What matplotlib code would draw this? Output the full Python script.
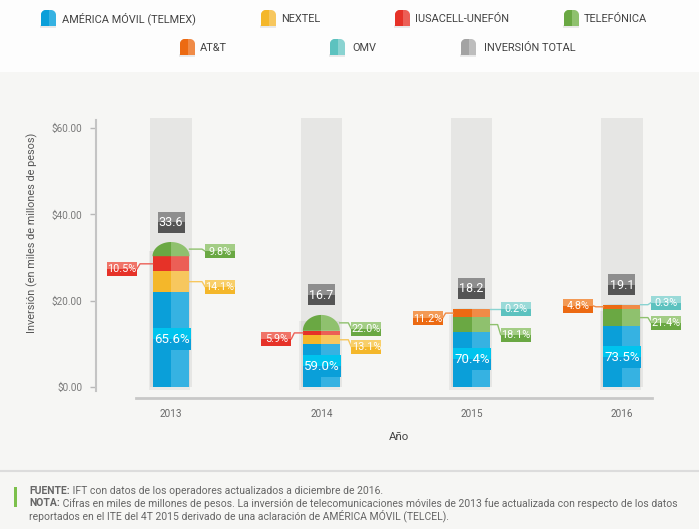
import matplotlib
matplotlib.use('Agg')
import matplotlib.pyplot as plt
from matplotlib.patches import Rectangle, Polygon
from matplotlib.lines import Line2D
from matplotlib.transforms import IdentityTransform
import numpy as np

# ---------------- data ----------------
years = ['2013', '2014', '2015', '2016']
totals = [33.6, 16.7, 18.2, 19.1]          # inversión total (miles de millones)
# share (%) of each operator, in stacking order bottom -> top
america_movil = [65.6, 59.0, 70.4, 73.5]
nextel = [14.1, 13.1, 0.0, 0.0]
iusacell = [10.5, 5.9, 0.0, 0.0]
telefonica = [9.8, 22.0, 18.1, 21.4]
att = [0.0, 0.0, 11.2, 4.8]
omv = [0.0, 0.0, 0.2, 0.3]

operators = ['AMÉRICA MÓVIL (TELMEX)', 'NEXTEL', 'IUSACELL-UNEFÓN', 'TELEFÓNICA', 'AT&T', 'OMV']
shares = [america_movil, nextel, iusacell, telefonica, att, omv]
total_label = 'INVERSIÓN TOTAL'

# ---------------- style ----------------
dark = ['#0a9fd9', '#f4b72a', '#e63228', '#6aa843', '#ec6a12', '#5cc2bf']
light = ['#36b2e2', '#f7c75e', '#ec5f56', '#8fc16e', '#f08b47', '#8ad3d1']
tag_top = ['#00c4ee', '#f8cf6a', '#f07468', '#a3cd85', '#f39a55', '#9adad8']
grey_dark, grey_light = '#a3a3a3', '#bdbdbd'
side = [0, 1, -1, 1, -1, 1]                 # 0 inside, 1 right, -1 left
tag_dy = [[0, 0, 0, 0], [5, 7, 0, 0], [5, 6, 0, 0], [2, 6, 10, 5], [0, 0, 5, -1], [0, 0, 0, -2]]
tag_dx = [49, 45, 44, 44]

plt.rcParams['font.family'] = ['Roboto', 'DejaVu Sans']

W, H = 699, 529
fig = plt.figure(figsize=(W / 100, H / 100), dpi=100)
fig.patch.set_facecolor('#f6f6f4')
ID = IdentityTransform()


def dy_(py):
    return H - py


# legend area (white)
fig.add_artist(Rectangle((0, dy_(72)), W, 72, transform=ID, facecolor='#fdfdfd', edgecolor='none', zorder=0))
# footer separator
fig.add_artist(Line2D([0, W], [dy_(471), dy_(471)], transform=ID, color='#dcdcdc', lw=1.5))

ax = fig.add_axes([96 / W, (H - 398) / H, (652 - 96) / W, (398 - 116) / H])
ax.set_facecolor('none')
x = np.arange(len(years))
ax.set_xlim(-0.499, 3.2)
ax.set_ylim(-2.55, 62.8)

bw = 0.246
# background columns
ax.bar(x, 62.3, width=0.275, bottom=0, color='#e6e6e4', zorder=1)

fig.canvas.draw()


def to_disp(xd, yd):
    return ax.transData.transform((xd, yd))


def two_tone(cx, cy, w, h, top, bottom, text, fs, text_color='white'):
    fig.add_artist(Rectangle((cx - w / 2, cy - h / 2), w, h / 2, transform=ID,
                             facecolor=bottom, edgecolor='none', zorder=5))
    fig.add_artist(Rectangle((cx - w / 2, cy), w, h / 2, transform=ID,
                             facecolor=top, edgecolor='none', zorder=5))
    fig.text(cx, cy - 0.5, text, transform=ID, ha='center', va='center',
             color=text_color, fontsize=fs, zorder=6)


for i, yr in enumerate(years):
    xi = x[i]
    # soft shadow
    ax.bar(xi - 0.012, totals[i] * 0.96, width=bw + 0.025, bottom=-0.8, color='#000000',
           alpha=0.05, zorder=2)
    segs = [(k, totals[i] * shares[k][i] / 100.0) for k in range(len(operators)) if shares[k][i] > 0]
    base = 0.0
    for n, (k, h) in enumerate(segs):
        top_seg = (n == len(segs) - 1)
        if top_seg:
            t_r = np.linspace(0, np.pi / 2, 40)
            t_l = np.linspace(np.pi / 2, np.pi, 40)
            pr = [(xi, base)] + [(xi + bw / 2 * np.cos(t), base + h * np.sin(t)) for t in t_r]
            pl = [(xi, base)] + [(xi + bw / 2 * np.cos(t), base + h * np.sin(t)) for t in t_l]
            ax.add_patch(Polygon(pr, closed=True, facecolor=light[k], edgecolor='none', zorder=3))
            ax.add_patch(Polygon(pl, closed=True, facecolor=dark[k], edgecolor='none', zorder=3))
        else:
            ax.bar(xi - bw / 4, h, width=bw / 2, bottom=base, color=dark[k], zorder=3)
            ax.bar(xi + bw / 4, h, width=bw / 2, bottom=base, color=light[k], zorder=3)
        # tag
        mid = base + h / 2
        cxd, cyd = to_disp(xi, mid)
        label = f'{shares[k][i]:.1f}%'
        if side[k] == 0:
            two_tone(cxd + 0.5, cyd, 38, 22, tag_top[k], dark[k], label, 9.5)
        else:
            s = side[k]
            half_bar = to_disp(xi + bw / 2, mid)[0] - cxd
            bx = cxd + s * tag_dx[i]
            by = cyd - tag_dy[k][i]
            bwid = 30
            edge = bx - s * bwid / 2
            knee = edge - s * 3
            fig.add_artist(Line2D([cxd + s * half_bar, knee, edge], [cyd, cyd, by],
                                  transform=ID, color=light[k], lw=1, zorder=4))
            two_tone(bx, by, bwid, 14, tag_top[k], dark[k], label, 7.8)
        base += h
    # total tag
    tx, ty = to_disp(xi, totals[i])
    two_tone(tx, ty + 20, 27, 21, '#8e8e8e', '#545454', f'{totals[i]:.1f}', 9)

# axes styling
for sp in ['top', 'right']:
    ax.spines[sp].set_visible(False)
ax.spines['left'].set_color('#c4c4c4')
ax.spines['left'].set_linewidth(1.5)
ax.spines['left'].set_bounds(-1, 61.8)
ax.spines['bottom'].set_color('#c8c8c8')
ax.spines['bottom'].set_linewidth(2)
ax.spines['bottom'].set_bounds(-0.233, 3.2)
ax.set_yticks([0, 20, 40, 60])
ax.set_yticklabels(['$0.00', '$20.00', '$40.00', '$60.00'])
ax.tick_params(axis='y', length=4.3, width=1, color='#b8b8b8', labelsize=7.2,
               labelcolor='#7a7a7a', pad=5.5)
ax.set_xticks(x)
ax.set_xticklabels(years)
ax.tick_params(axis='x', length=0, labelsize=7.2, labelcolor='#6a6a6a', pad=8)

fig.text(399, dy_(437), 'Año', transform=ID, ha='center', va='center', fontsize=8.2, color='#444444')
fig.text(32, dy_(233), 'Inversión (en miles de millones de pesos)', transform=ID, rotation=90,
         ha='center', va='center', fontsize=7.8, color='#555555')


# legend
def icon(x0, ytop, c_dark, c_light, w=15, h=16, r=5):
    yb = dy_(ytop + h)
    yt = dy_(ytop)
    pts = [(x0, yb)]
    a = np.linspace(np.pi, np.pi / 2, 12)
    pts += [(x0 + r + r * np.cos(t), yt - r + r * np.sin(t)) for t in a]
    a = np.linspace(np.pi / 2, 0, 12)
    pts += [(x0 + w - r + r * np.cos(t), yt - r + r * np.sin(t)) for t in a]
    pts += [(x0 + w, yb)]
    shape = Polygon(pts, closed=True, transform=ID, facecolor=c_light, edgecolor='none', zorder=5)
    fig.add_artist(Rectangle((x0 - 1, yb - 2), w + 1, 3, transform=ID, facecolor='#000000',
                             alpha=0.08, edgecolor='none', zorder=4))
    fig.add_artist(shape)
    lh = Rectangle((x0, yb), w / 2, h, transform=ID, facecolor=c_dark, edgecolor='none', zorder=5)
    lh.set_clip_path(shape)
    fig.add_artist(lh)


leg_items = [(41, 10, 62), (261, 10, 281), (395, 10, 415), (564, 10, 584),
             (180, 39, 200), (330, 39, 352), (461, 39, 484)]
leg_names = operators + [total_label]
leg_dark = dark + [grey_dark]
leg_light = light + [grey_light]
for (ix, iy, tx), name, cd, cl in zip(leg_items, leg_names, leg_dark, leg_light):
    icon(ix, iy, cd, cl)
    fig.text(tx, dy_(iy + 9), name, transform=ID, ha='left', va='center', fontsize=7.9,
             color='#444444')

# footer
fig.add_artist(Rectangle((14, dy_(507)), 3, 20, transform=ID, facecolor='#7cc04b',
                         edgecolor='none'))
renderer = fig.canvas.get_renderer()
foot = [('FUENTE:', ' IFT con datos de los operadores actualizados a diciembre de 2016.'),
        ('NOTA:', ' Cifras en miles de millones de pesos. La inversión de telecomunicaciones móviles de 2013 fue actualizada con respecto de los datos'),
        ('', 'reportados en el ITE del 4T 2015 derivado de una aclaración de AMÉRICA MÓVIL (TELCEL).')]
for j, (b, rest) in enumerate(foot):
    yy = dy_(491 + j * 12.5)
    xx = 29
    if b:
        tb = fig.text(xx, yy, b, transform=ID, ha='left', va='center', fontsize=7.5,
                      color='#666666', fontweight='bold')
        xx = tb.get_window_extent(renderer).x1
    fig.text(xx, yy, rest, transform=ID, ha='left', va='center', fontsize=7.5, color='#666666')

fig.savefig('out.png', dpi=100, facecolor=fig.get_facecolor())
